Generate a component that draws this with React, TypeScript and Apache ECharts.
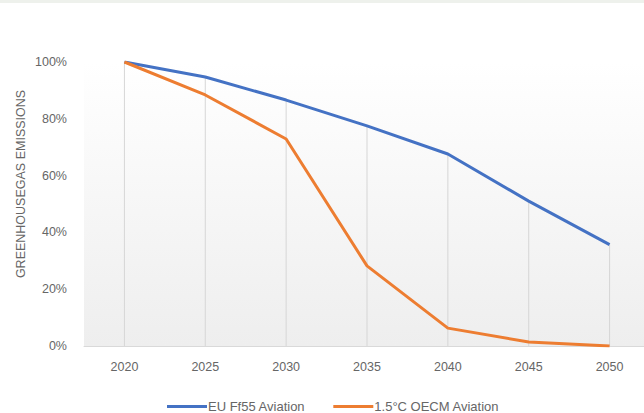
import React, { useEffect, useRef } from "react";
import * as echarts from "echarts";

const years = ["2020", "2025", "2030", "2035", "2040", "2045", "2050"];
const euFf55 = [1.0, 0.947, 0.866, 0.775, 0.676, 0.51, 0.357];
const oecm15 = [1.0, 0.884, 0.729, 0.282, 0.063, 0.014, 0.0];
const seriesNames = ["EU Ff55 Aviation", "1.5°C OECM Aviation"];
const yTicks = [0, 0.2, 0.4, 0.6, 0.8, 1.0];
const yAxisTitle = "GREENHOUSEGAS EMISSIONS";

const FONT = "'Liberation Sans', Arial, sans-serif";
const TEXT = "#666666";

export default function App() {
  const ref = useRef<HTMLDivElement>(null);

  useEffect(() => {
    document.body.style.margin = "0";
    const chart = echarts.init(ref.current!, null, { renderer: "svg" });
    // drop lines run from the higher of the two series down to the axis
    const dropTops = years.map((_, i) => Math.max(euFf55[i], oecm15[i]));
    chart.setOption({
      animation: false,
      backgroundColor: "#ffffff",
      textStyle: { fontFamily: FONT },
      graphic: [
        {
          type: "rect",
          left: 0,
          top: 0,
          shape: { width: 650, height: 3 },
          style: { fill: "#eef1ec" },
          silent: true,
        },
        {
          type: "text",
          x: 21,
          y: 184,
          rotation: Math.PI / 2,
          style: {
            text: yAxisTitle,
            fill: TEXT,
            fontSize: 12.5,
            fontFamily: FONT,
            align: "center",
            verticalAlign: "middle",
          },
          silent: true,
        },
      ],
      grid: {
        left: 84,
        right: 0,
        top: 62,
        bottom: 67,
        show: true,
        borderWidth: 0,
        backgroundColor: new echarts.graphic.LinearGradient(0, 0, 0, 1, [
          { offset: 0, color: "#ffffff" },
          { offset: 1, color: "#eeeeee" },
        ]),
      },
      legend: {
        top: 395,
        left: 162,
        itemWidth: 40,
        itemHeight: 3,
        itemGap: 28,
        icon: "rect",
        data: seriesNames,
        textStyle: { color: TEXT, fontSize: 13, fontFamily: FONT, padding: [0, 0, 0, -4] },
      },
      xAxis: {
        type: "category",
        data: years,
        boundaryGap: true,
        axisLine: { show: true, lineStyle: { color: "#d9d9d9", width: 1 } },
        axisTick: { show: false },
        axisLabel: { color: TEXT, fontSize: 12.5, fontFamily: FONT, margin: 14 },
        splitLine: { show: false },
      },
      yAxis: {
        type: "value",
        min: yTicks[0],
        max: yTicks[yTicks.length - 1],
        interval: 0.2,
        axisLine: { show: false },
        axisTick: { show: false },
        splitLine: { show: false },
        axisLabel: {
          color: TEXT,
          fontSize: 12.5,
          fontFamily: FONT,
          margin: 17,
          formatter: (v: number) => `${Math.round(v * 100)}%`,
        },
      },
      series: [
        {
          type: "bar",
          data: dropTops,
          barWidth: 1,
          itemStyle: { color: "#d6d6d6" },
          silent: true,
          z: 1,
        },
        {
          name: seriesNames[0],
          type: "line",
          data: euFf55,
          showSymbol: false,
          symbol: "none",
          lineStyle: { color: "#4472c4", width: 3 },
          itemStyle: { color: "#4472c4" },
          z: 3,
        },
        {
          name: seriesNames[1],
          type: "line",
          data: oecm15,
          showSymbol: false,
          symbol: "none",
          lineStyle: { color: "#ed7d31", width: 3 },
          itemStyle: { color: "#ed7d31" },
          z: 4,
        },
      ],
    });
    return () => chart.dispose();
  }, []);

  return (
    <div style={{ width: 644, height: 413, overflow: "hidden" }}>
      <div ref={ref} style={{ width: 650, height: 413 }} />
    </div>
  );
}
